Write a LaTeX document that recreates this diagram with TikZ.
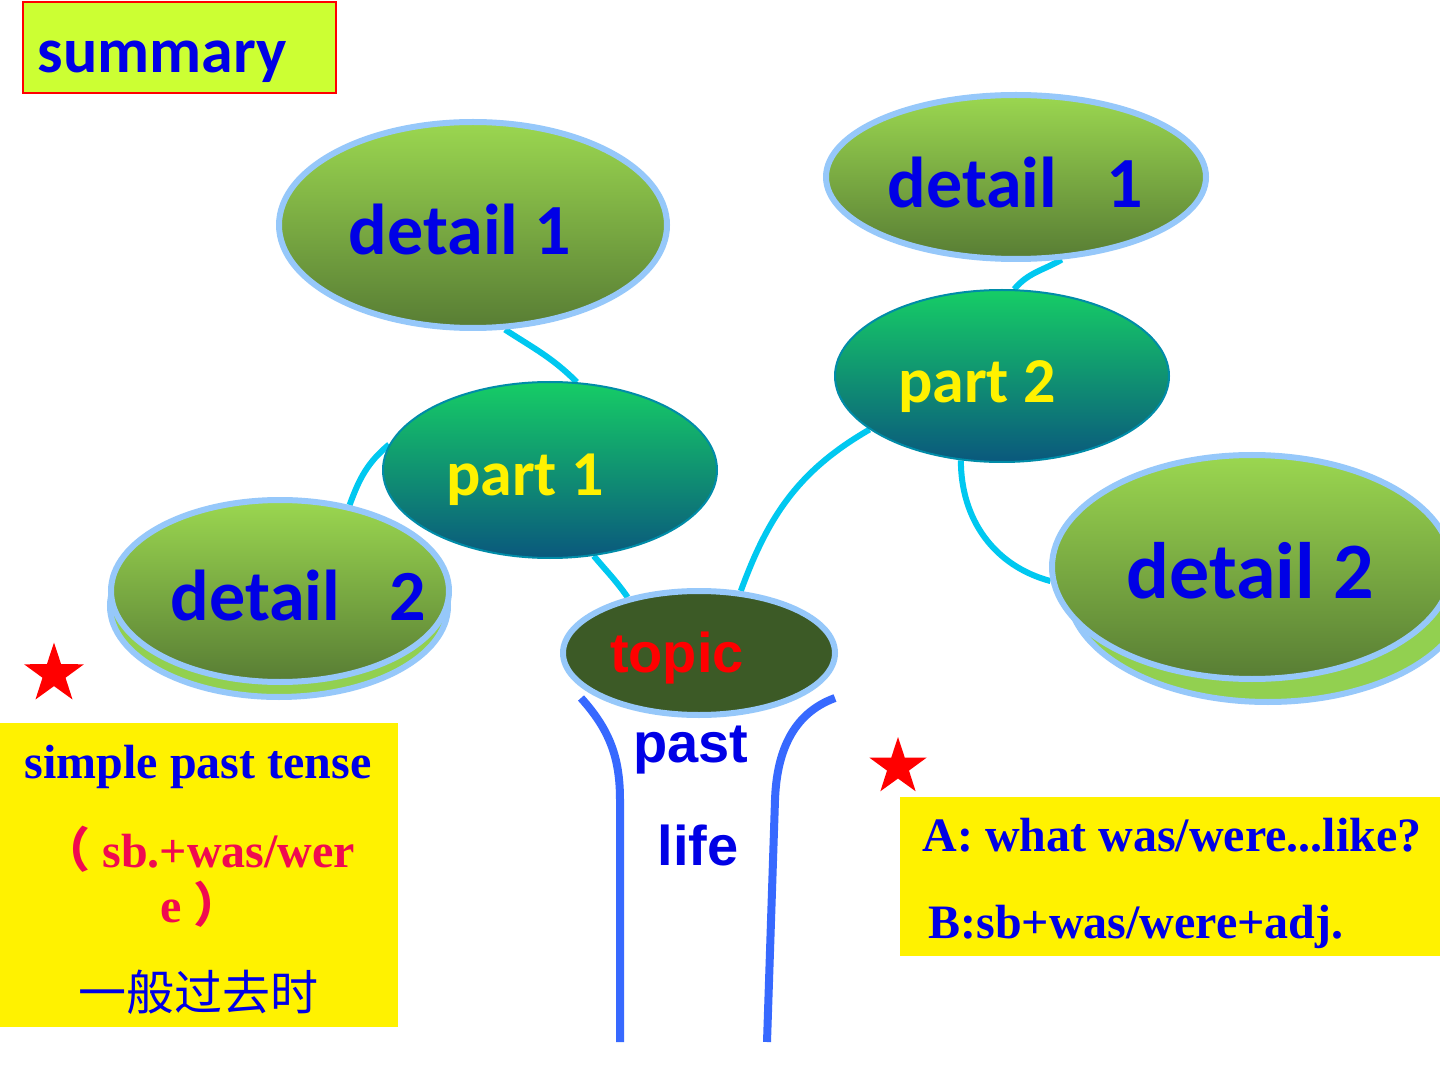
\documentclass[tikz,border=0pt]{standalone}
\usepackage{fontspec}
\usepackage{tikz}
\usetikzlibrary{shapes.geometric,backgrounds}
\newfontfamily\calibfont{Carlito}
\newfontfamily\arialfont{Liberation Sans}
\newfontfamily\timesfont{Liberation Serif}
\newfontfamily\cjkfont{Noto Sans CJK SC}
\definecolor{limebox}{RGB}{204,255,51}
\definecolor{leafhi}{RGB}{155,215,80}
\definecolor{leaflo}{RGB}{88,125,52}
\definecolor{leafband}{RGB}{146,208,80}
\definecolor{parthi}{RGB}{22,205,102}
\definecolor{partlo}{RGB}{10,88,125}
\definecolor{rimblue}{RGB}{150,200,250}
\definecolor{twig}{RGB}{0,200,240}
\definecolor{trunkblue}{RGB}{55,105,255}
\definecolor{topicfill}{RGB}{60,90,38}
\definecolor{txtblue}{RGB}{0,0,230}
\definecolor{txtred}{RGB}{240,10,80}

\begin{document}
\begin{tikzpicture}[x=0.5pt,y=-0.5pt,
    leaf/.style={ellipse,draw=rimblue,line width=3pt,top color=leafhi,bottom color=leaflo,inner sep=0pt},
    leafback/.style={ellipse,draw=rimblue,line width=3pt,fill=leafband,inner sep=0pt},
    partbub/.style={ellipse,draw=twig!70!black,line width=1pt,top color=parthi,bottom color=partlo,inner sep=0pt},
    twigline/.style={twig,line width=3pt},
    trunkline/.style={trunkblue,line width=4pt},
    leaftext/.style={anchor=base,inner sep=0pt,text=txtblue,font=\calibfont\bfseries\fontsize{36}{40}\selectfont},
    parttext/.style={anchor=base,inner sep=0pt,text=yellow,font=\calibfont\bfseries\fontsize{32}{36}\selectfont},
    stemtext/.style={anchor=base,inner sep=0pt,text=txtblue,font=\arialfont\bfseries\fontsize{28}{32}\selectfont},
    serifblue/.style={inner sep=0pt,text=txtblue,font=\timesfont\bfseries\fontsize{24}{28}\selectfont},
    serifred/.style={inner sep=0pt,text=txtred,font=\timesfont\bfseries\fontsize{24}{28}\selectfont},
    redstar/.style={star,star points=5,star point ratio=2.6,fill=red,inner sep=0pt}]
    \useasboundingbox (0,0) rectangle (1440,1080);

    \node[draw=red,line width=0.6pt,fill=limebox,minimum width=156.5pt,minimum height=45.5pt] (sumbox) at (179.5,47.5) {};
    \node[leaftext,font=\calibfont\bfseries\fontsize{32}{36}\selectfont] (summary) at (162,73) {summary};

    \node[leaf,minimum width=194pt,minimum height=103pt] (d1L) at (473,225) {};
    \node[leaf,minimum width=190pt,minimum height=82pt] (d1R) at (1016,177) {};
    \node[partbub,minimum width=167pt,minimum height=86pt] (p2) at (1002,376) {};
    \node[partbub,minimum width=167pt,minimum height=88pt] (p1) at (550,470) {};
    \node[leafback,minimum width=169pt,minimum height=91pt] (d2Lback) at (279,606) {};
    \node[leaf,minimum width=169pt,minimum height=91pt] (d2L) at (280,591) {};
    \node[leafback,minimum width=200pt,minimum height=112pt] (d2Rback) at (1268,590) {};
    \node[leaf,minimum width=200pt,minimum height=112pt] (d2R) at (1252,567) {};
    \node[ellipse,draw=rimblue,line width=3pt,fill=topicfill,inner sep=0pt,
      minimum width=136pt,minimum height=62pt] (topic) at (699,653) {};

    \coordinate (trLtop) at (581,698);
    \coordinate (trLmid) at (620,800);
    \coordinate (trLend) at (620,1042);
    \coordinate (trRtop) at (835,698);
    \coordinate (trRmid) at (775,800);
    \coordinate (trRend) at (767,1042);

    \begin{scope}[on background layer]
      \fill[white] (0,0) rectangle (1440,1080);
      \draw[twigline] (d1L.-73) to[out=-33,in=135] (p1.73);
      \draw[twigline] (d2L.51) to[out=70,in=220] (p1.171);
      \draw[twigline] (p1.-63) to[out=-50,in=125] (topic.142);
      \draw[twigline] (topic.56) to[out=70,in=210] (p2.202);
      \draw[twigline] (p2.82) to[out=50,in=-150] (d1R.-61);
      \draw[twigline] (p2.-116) to[out=-90,in=165] (d2R.184);
      \draw[trunkline] (trLtop) to[out=-48,in=90] (trLmid) -- (trLend);
      \draw[trunkline] (trRtop) to[out=200,in=88] (trRmid) -- (trRend);
    \end{scope}

    \node[leaftext] (d1Ltext) at (460,255) {detail 1};
    \node[leaftext] (d1Rtext) at (1015,208) {detail~~~1};
    \node[parttext] (p2text) at (977,403) {part 2};
    \node[parttext] (p1text) at (525,495) {part 1};
    \node[leaftext] (d2Ltext) at (298,620) {detail~~~2};
    \node[leaftext,font=\calibfont\bfseries\fontsize{40}{44}\selectfont] (d2Rtext) at (1250,598) {detail 2};
    \node[stemtext,text=red] (topictext) at (677,672) {topic};
    \node[stemtext] (past) at (691,762) {past};
    \node[stemtext] (life) at (698,865) {life};

    \node[redstar,minimum size=31.5pt] (starL) at (54,674) {};
    \node[redstar,minimum size=30pt] (starR) at (898,767) {};

    \node[fill=yellow,minimum width=199pt,minimum height=152pt,inner sep=0pt] (tensebox) at (199,875) {};
    \node[serifblue,anchor=base] (tense) at (198,778) {simple past tense};
    \node[serifred,anchor=base west] (form1) at (42,867) {{\cjkfont （} sb.+was/wer};
    \node[serifred,anchor=base west] (form2) at (160,922) {e {\cjkfont ）}};
    \node[serifblue,anchor=base,font=\cjkfont\fontsize{24}{28}\selectfont] (zh) at (198,1010) {一般过去时};

    \node[fill=yellow,minimum width=270pt,minimum height=79.5pt,inner sep=0pt] (dialogbox) at (1170,876.5) {};
    \node[serifblue,anchor=base west] (lineA) at (922,851) {A: what was/were...like?};
    \node[serifblue,anchor=base west] (lineB) at (928,938) {B:sb+was/were+adj.};
\end{tikzpicture}
\end{document}
